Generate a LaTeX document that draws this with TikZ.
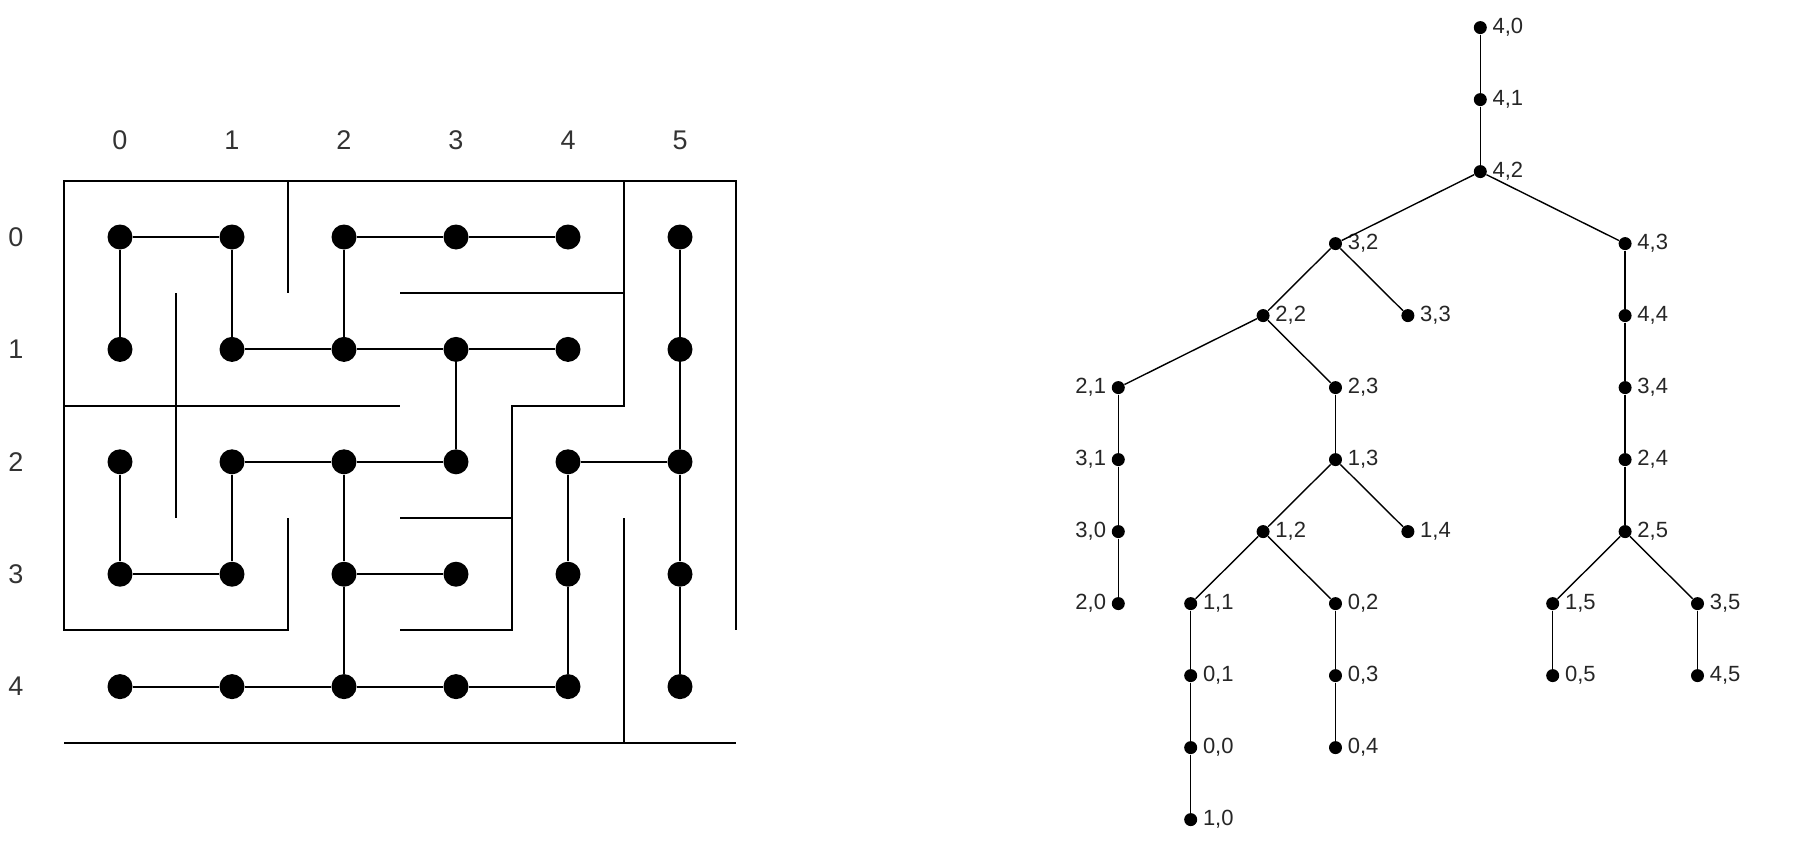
\documentclass[tikz,border=0pt]{standalone}
\usepackage{fontspec}
\setmainfont{Liberation Sans}

\begin{document}
\begin{tikzpicture}[x=0.5pt,y=-0.5pt,
  md/.style={circle,fill=black,inner sep=0pt,minimum size=12.5pt},
  td/.style={circle,fill=black,inner sep=0pt,minimum size=6.5pt},
  idx/.style={font=\fontsize{13.5}{15}\selectfont,text=black!80},
  every label/.style={font=\fontsize{11}{12}\selectfont,inner sep=2.5pt,text=black!85},
  me/.style={line width=1pt},
  wall/.style={line width=1pt},
  te/.style={line width=0.7pt}]
\useasboundingbox (0,0) rectangle (1804,846);
% maze on the left
\begin{scope}[shift={(120,237)},x=56pt,y=-56.2pt]
\foreach \c in {0,...,5} \node[idx] (col\c) at (\c,-0.86) {\c};
\foreach \r in {0,...,4} \node[idx] (row\r) at (-0.93,\r) {\r};
\foreach \r in {0,...,4} \foreach \c in {0,...,5} \node[md] (m\r\c) at (\c,\r) {};
\foreach \a/\b in {00/01,02/03,03/04,00/10,01/11,02/12,05/15,11/12,12/13,13/14,
  13/23,15/25,21/22,22/23,24/25,20/30,21/31,22/32,24/34,25/35,30/31,32/33,
  32/42,34/44,35/45,40/41,41/42,42/43,43/44}
  \draw[me] (m\a) -- (m\b);
% walls
\draw[wall] (1.5,2.5) -- (1.5,3.5) -- (-0.5,3.5) -- (-0.5,-0.5) -- (5.5,-0.5) -- (5.5,3.5);
\draw[wall] (-0.5,4.5) -- (5.5,4.5);
\draw[wall] (1.5,-0.5) -- (1.5,0.5);
\draw[wall] (0.5,0.5) -- (0.5,2.5);
\draw[wall] (2.5,0.5) -- (4.5,0.5);
\draw[wall] (4.5,-0.5) -- (4.5,1.5) -- (3.5,1.5) -- (3.5,3.5) -- (2.5,3.5);
\draw[wall] (-0.5,1.5) -- (2.5,1.5);
\draw[wall] (2.5,2.5) -- (3.5,2.5);
\draw[wall] (4.5,2.5) -- (4.5,4.5);
\end{scope}
% spanning tree on the right
\begin{scope}[shift={(1118.3,27.6)},x=36.2pt,y=-36pt]
\foreach \r/\c/\x/\y/\s in {4/0/5/0/right,4/1/5/1/right,4/2/5/2/right,
  3/2/3/3/right,4/3/7/3/right,2/2/2/4/right,3/3/4/4/right,4/4/7/4/right,
  2/1/0/5/left,2/3/3/5/right,3/4/7/5/right,3/1/0/6/left,1/3/3/6/right,
  2/4/7/6/right,3/0/0/7/left,1/2/2/7/right,1/4/4/7/right,2/5/7/7/right,
  2/0/0/8/left,1/1/1/8/right,0/2/3/8/right,1/5/6/8/right,3/5/8/8/right,
  0/1/1/9/right,0/3/3/9/right,0/5/6/9/right,4/5/8/9/right,
  0/0/1/10/right,0/4/3/10/right,1/0/1/11/right}
  \node[td,label={\s:{\r,\c}}] (t\r\c) at (\x,\y) {};
\foreach \a/\b in {40/41,41/42,42/32,42/43,32/22,32/33,22/21,22/23,21/31,31/30,
  30/20,23/13,13/12,13/14,12/11,12/02,11/01,01/00,00/10,02/03,03/04,
  43/44,44/34,34/24,24/25,25/15,25/35,15/05,35/45}
  \draw[te] (t\a) -- (t\b);
\end{scope}
\end{tikzpicture}
\end{document}
